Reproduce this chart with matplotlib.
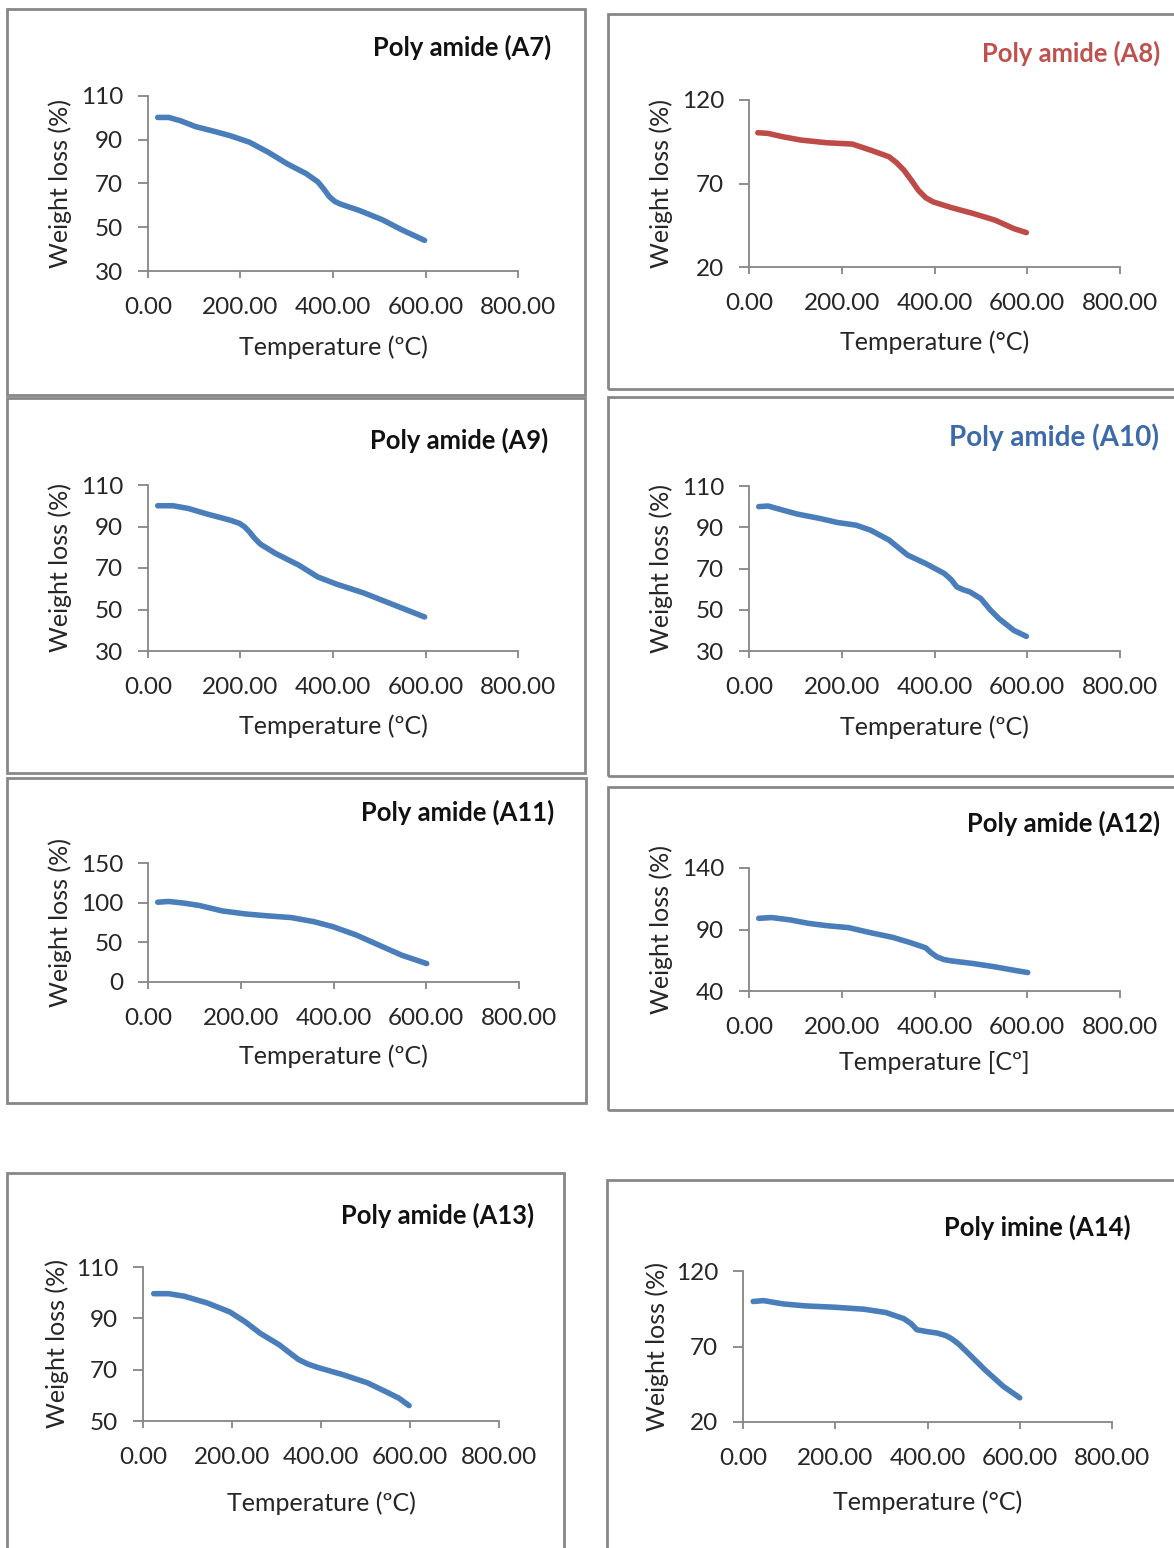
import matplotlib.pyplot as plt
from matplotlib.patches import Rectangle

plt.rcParams['font.family'] = ['Lato', 'DejaVu Sans']

# TGA curves (temperature in °C, weight in %)
a7_temp = [21, 45, 70, 103, 144, 177, 219, 260, 301, 342, 367, 380, 392, 404, 416, 458, 507, 548, 598]
a7_weight = [100.2, 100.2, 98.7, 96.0, 93.8, 91.9, 88.9, 84.3, 79.0, 74.5, 70.8, 67.5, 64.0, 61.8, 60.6, 57.6, 53.4, 48.9, 44.0]

a8_temp = [19, 41, 73, 112, 168, 223, 262, 302, 318, 334, 350, 365, 381, 397, 436, 484, 531, 571, 598]
a8_weight = [100.4, 100.0, 98.0, 96.0, 94.4, 93.6, 90.0, 86.0, 82.5, 78.0, 72.0, 66.0, 61.5, 59.0, 55.6, 52.0, 48.0, 43.0, 40.6]

a9_temp = [21, 54, 87, 128, 177, 198, 209, 219, 231, 243, 276, 326, 367, 408, 466, 524, 598]
a9_weight = [100.0, 100.0, 98.7, 96.0, 93.1, 91.5, 89.8, 87.5, 84.2, 81.5, 77.0, 71.4, 65.7, 62.2, 58.0, 52.9, 46.4]

a10_temp = [21, 41, 73, 104, 152, 191, 231, 262, 302, 342, 381, 421, 436, 448, 462, 476, 500, 520, 539, 571, 598]
a10_weight = [100.0, 100.3, 98.3, 96.4, 94.3, 92.3, 91.0, 88.6, 83.8, 76.5, 72.4, 67.6, 64.6, 61.1, 59.7, 58.7, 55.4, 50.0, 45.7, 40.0, 37.1]

a11_temp = [21, 45, 78, 111, 160, 210, 259, 309, 358, 399, 449, 498, 547, 601]
a11_weight = [100.6, 101.5, 99.4, 96.4, 89.6, 85.8, 83.3, 81.2, 76.0, 69.7, 59.2, 46.5, 33.8, 23.2]

a12_temp = [21, 49, 89, 128, 168, 215, 262, 310, 349, 381, 393, 405, 420, 436, 484, 531, 571, 601]
a12_weight = [99.1, 99.7, 97.8, 95.0, 93.1, 91.5, 87.4, 83.6, 79.2, 75.1, 71.0, 67.8, 65.6, 64.5, 62.3, 59.6, 56.9, 55.0]

a13_temp = [24, 58, 93, 144, 195, 230, 264, 307, 330, 349, 370, 392, 452, 504, 546, 575, 598]
a13_weight = [99.6, 99.6, 98.6, 96.0, 92.5, 88.6, 84.1, 79.6, 76.5, 74.0, 72.2, 70.9, 67.9, 64.9, 61.4, 58.9, 56.0]

a14_temp = [22, 44, 87, 135, 199, 262, 310, 349, 365, 377, 400, 421, 440, 453, 468, 484, 524, 564, 600]
a14_weight = [99.8, 100.4, 98.2, 96.9, 96.0, 94.7, 92.5, 88.4, 85.0, 81.1, 79.8, 78.9, 77.2, 75.0, 71.5, 66.8, 54.7, 43.7, 36.0]

titles = ['Poly amide (A7)', 'Poly amide (A8)', 'Poly amide (A9)', 'Poly amide (A10)',
          'Poly amide (A11)', 'Poly amide (A12)', 'Poly amide (A13)', 'Poly imine (A14)']
xlabels = ['Temperature (ºC)', 'Temperature (°C)', 'Temperature (ºC)', 'Temperature (ºC)',
           'Temperature (ºC)', 'Temperature [Cº]', 'Temperature (ºC)', 'Temperature (°C)']
ylabel = 'Weight loss (%)'
xticks = [0, 200, 400, 600, 800]
xtick_labels = ['0.00', '200.00', '400.00', '600.00', '800.00']
yticks = [[30, 50, 70, 90, 110], [20, 70, 120], [30, 50, 70, 90, 110], [30, 50, 70, 90, 110],
          [0, 50, 100, 150], [40, 90, 140], [50, 70, 90, 110], [20, 70, 120]]
series = [(a7_temp, a7_weight), (a8_temp, a8_weight), (a9_temp, a9_weight), (a10_temp, a10_weight),
          (a11_temp, a11_weight), (a12_temp, a12_weight), (a13_temp, a13_weight), (a14_temp, a14_weight)]

BLUE = '#4a7ebb'
RED = '#be4b48'
line_colors = [BLUE, RED, BLUE, BLUE, BLUE, BLUE, BLUE, BLUE]
title_colors = ['#111111', '#c0504d', '#111111', '#3d6aa8', '#111111', '#111111', '#111111', '#111111']
title_sizes = [18.4, 18.4, 18.4, 20, 18.4, 18.4, 18.4, 18.4]

# layout in pixels: box (l, t, r, b), axes (l, t, r, b), ylabel x, xlabel y, title (right x, y)
boxes = [(7, 9, 585, 395), (608, 14, 1180, 389), (7, 398, 585, 773), (608, 397, 1180, 776),
         (7, 778, 586, 1103), (608, 787, 1180, 1110), (7, 1173, 564, 1560), (607, 1180, 1180, 1560)]
axes_px = [(148, 96, 518, 271), (749, 100, 1120, 267), (148, 485, 518, 651), (749, 486, 1120, 651),
           (148, 863, 519, 982), (749, 868, 1120, 991), (143, 1267, 499, 1421), (743, 1271, 1112, 1422)]
ylabel_x = [60, 661, 60, 661, 60, 661, 57, 657]
xlabel_y = [347, 342, 726, 727, 1056, 1062, 1503, 1502]
title_pos = [(551, 47), (1160, 53), (548, 440), (1159, 437), (554, 812), (1160, 823), (534, 1215), (1131, 1227)]

W, H = 1174, 1548
fig = plt.figure(figsize=(W / 100, H / 100), dpi=100)

for i in range(8):
    bl, bt, br, bb = boxes[i]
    fig.patches.append(Rectangle((bl / W, 1 - bb / H), (br - bl) / W, (bb - bt) / H,
                                 transform=fig.transFigure, fill=False,
                                 edgecolor='#878787', linewidth=2.0))
    l, t, r, b = axes_px[i]
    ax = fig.add_axes([l / W, 1 - b / H, (r - l) / W, (b - t) / H])
    temp, weight = series[i]
    ax.plot(temp, weight, color=line_colors[i], lw=4.0,
            solid_capstyle='round', solid_joinstyle='round', clip_on=False)
    ax.set_xlim(0, 800)
    ax.set_ylim(yticks[i][0], yticks[i][-1])
    ax.set_xticks(xticks)
    ax.set_xticklabels(xtick_labels)
    ax.set_yticks(yticks[i])
    ax.set_yticklabels([str(v) for v in yticks[i]])
    for side in ['top', 'right']:
        ax.spines[side].set_visible(False)
    for side in ['left', 'bottom']:
        ax.spines[side].set_color('#868686')
        ax.spines[side].set_linewidth(1.3)
    ax.tick_params(axis='x', length=5, width=1.3, color='#868686', pad=14,
                   labelsize=17.5, labelcolor='#262626')
    ax.tick_params(axis='y', length=7, width=1.3, color='#868686', pad=11,
                   labelsize=17.5, labelcolor='#262626')
    ax.set_ylabel(ylabel, fontsize=18, color='#262626')
    ax.set_xlabel(xlabels[i], fontsize=18, color='#262626')
    ax.yaxis.set_label_coords((ylabel_x[i] - l) / (r - l), 0.5)
    ax.yaxis.label.set_va('center')
    ax.xaxis.set_label_coords(0.5, -(xlabel_y[i] - b) / (b - t))
    ax.xaxis.label.set_va('center')
    tx, ty = title_pos[i]
    fig.text(tx / W, 1 - ty / H, titles[i], ha='right', va='center',
             fontsize=title_sizes[i], fontweight='bold', color=title_colors[i])

fig.savefig('out.png', dpi=100)
